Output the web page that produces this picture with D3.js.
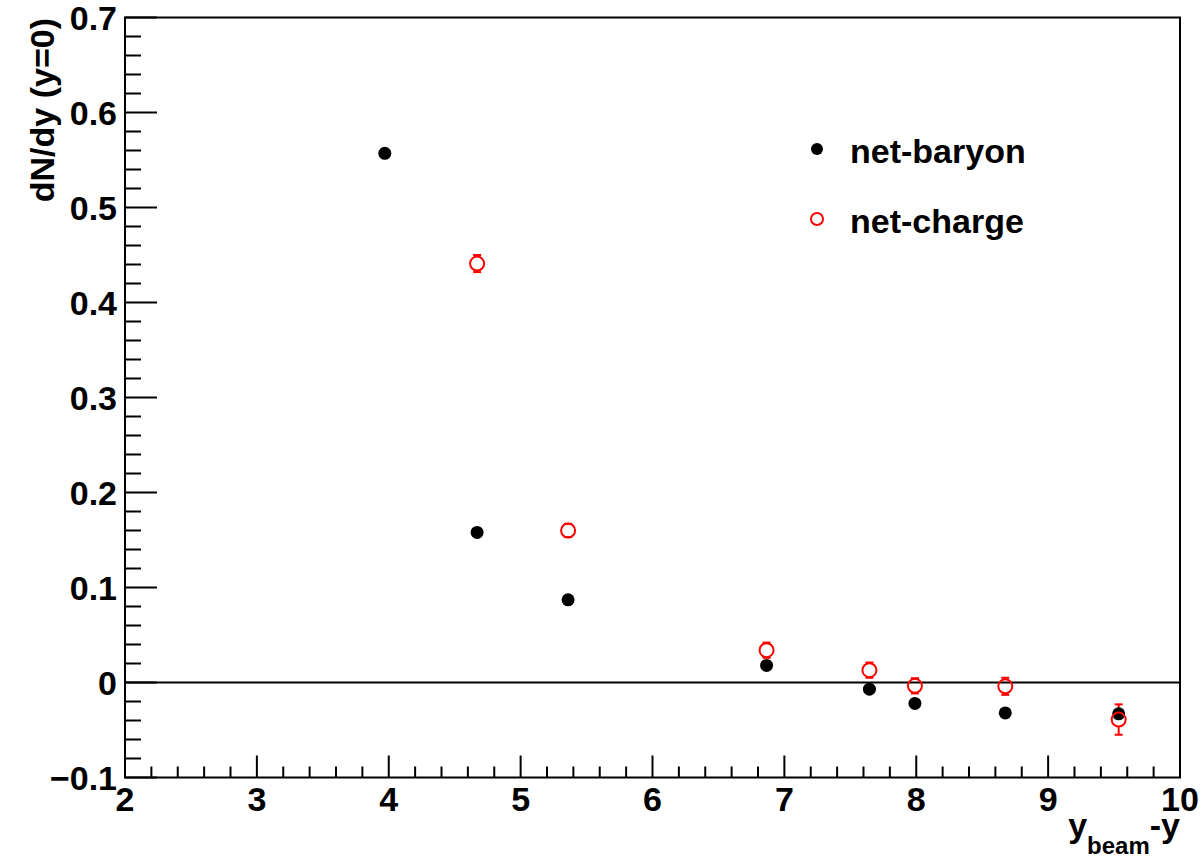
<!DOCTYPE html>
<html>
<head>
<meta charset="utf-8">
<script src="https://cdn.jsdelivr.net/npm/d3@7"></script>
<style>
  body { margin: 0; background: #fff; }
  text { font-family: "Liberation Sans", Arial, sans-serif; font-weight: bold; }
</style>
</head>
<body>
<script>
const w = 1204;
const h = 861;

// Data

const baryonX = [3.97, 4.67, 5.36, 6.865, 7.645, 7.99, 8.675, 9.535];
const baryonY = [0.557, 0.158, 0.087, 0.018, -0.007, -0.022, -0.032, -0.033];

const chargeX = [4.67, 5.36, 6.865, 7.645, 7.99, 8.675, 9.535];
const chargeY = [0.441, 0.160, 0.034, 0.013, -0.0035, -0.004, -0.039];
const chargeErr = [0.009, 0.007, 0.008, 0.008, 0.008, 0.009, 0.016];

const xTicks = [2, 3, 4, 5, 6, 7, 8, 9, 10];
const yTicks = [-0.1, 0, 0.1, 0.2, 0.3, 0.4, 0.5, 0.6, 0.7];
const yTickLabels = ["\u22120.1", "0", "0.1", "0.2", "0.3", "0.4", "0.5", "0.6", "0.7"];

const legendLabels = ["net-baryon", "net-charge"];

// Scales

const x = d3.scaleLinear().domain([2, 10]).range([125, 1180]);
const y = d3.scaleLinear().domain([-0.1, 0.7]).range([777.5, 17.5]);

// SVG

const svg = d3.select("body").append("svg").attr("width", w).attr("height", h);

// Frame

svg
  .append("rect")
  .attr("x", x(2))
  .attr("y", y(0.7))
  .attr("width", x(10) - x(2))
  .attr("height", y(-0.1) - y(0.7))
  .attr("fill", "none")
  .attr("stroke", "black")
  .attr("stroke-width", 2);

// Zero line

svg
  .append("line")
  .attr("x1", x(2))
  .attr("x2", x(10))
  .attr("y1", y(0))
  .attr("y2", y(0))
  .attr("stroke", "black")
  .attr("stroke-width", 2);

// Y ticks

svg
  .append("g")
  .selectAll("line")
  .data(y.ticks(40))
  .join("line")
  .attr("x1", x(2))
  .attr("x2", (d) => x(2) + (Math.abs(Math.round(d * 50)) % 5 === 0 ? 32 : 16))
  .attr("y1", (d) => y(d))
  .attr("y2", (d) => y(d))
  .attr("stroke", "black")
  .attr("stroke-width", 2);

svg
  .append("g")
  .selectAll("text")
  .data(yTicks)
  .join("text")
  .attr("x", 117)
  .attr("y", (d) => y(d))
  .attr("dy", "0.36em")
  .attr("text-anchor", "end")
  .attr("font-size", 34)
  .text((d, i) => yTickLabels[i]);

// X ticks

svg
  .append("g")
  .selectAll("line")
  .data(x.ticks(40))
  .join("line")
  .attr("x1", (d) => x(d))
  .attr("x2", (d) => x(d))
  .attr("y1", y(-0.1))
  .attr("y2", (d) => y(-0.1) - (Math.abs(Math.round(d * 5)) % 5 === 0 ? 22 : 11))
  .attr("stroke", "black")
  .attr("stroke-width", 2);

svg
  .append("g")
  .selectAll("text")
  .data(xTicks)
  .join("text")
  .attr("x", (d) => x(d))
  .attr("y", 811)
  .attr("text-anchor", "middle")
  .attr("font-size", 34)
  .text((d) => d);

// Axis titles

svg
  .append("text")
  .attr("transform", "translate(54,18) rotate(-90)")
  .attr("text-anchor", "end")
  .attr("font-size", 34)
  .text("dN/dy (y=0)");

const xTitle = svg
  .append("text")
  .attr("x", 1180)
  .attr("y", 837)
  .attr("text-anchor", "end")
  .attr("font-size", 34);
xTitle.append("tspan").text("y");
xTitle.append("tspan").attr("font-size", 24).attr("dy", 17).text("beam");
xTitle.append("tspan").attr("dy", -17).text("-y");

// Net-charge error bars

const r = 7;

const errG = svg.append("g").attr("stroke", "red").attr("stroke-width", 2);

chargeX.forEach((cx, i) => {
  const px = x(cx);
  const top = y(chargeY[i] + chargeErr[i]);
  const bot = y(chargeY[i] - chargeErr[i]);
  const py = y(chargeY[i]);
  if (py - top > r) {
    errG.append("line").attr("x1", px).attr("x2", px).attr("y1", top).attr("y2", py - r);
    errG.append("line").attr("x1", px).attr("x2", px).attr("y1", py + r).attr("y2", bot);
  }
  errG.append("line").attr("x1", px - 4).attr("x2", px + 4).attr("y1", top).attr("y2", top);
  errG.append("line").attr("x1", px - 4).attr("x2", px + 4).attr("y1", bot).attr("y2", bot);
});

// Net-baryon points

svg
  .append("g")
  .selectAll("circle")
  .data(baryonX)
  .join("circle")
  .attr("cx", (d) => x(d))
  .attr("cy", (d, i) => y(baryonY[i]))
  .attr("r", 6.5)
  .attr("fill", "black");

// Net-charge points

svg
  .append("g")
  .selectAll("circle")
  .data(chargeX)
  .join("circle")
  .attr("cx", (d) => x(d))
  .attr("cy", (d, i) => y(chargeY[i]))
  .attr("r", r)
  .attr("fill", "none")
  .attr("stroke", "red")
  .attr("stroke-width", 2);

// Legend

const legend = svg.append("g");

legend
  .append("circle")
  .attr("cx", 817)
  .attr("cy", 149)
  .attr("r", 6)
  .attr("fill", "black");

legend
  .append("circle")
  .attr("cx", 817)
  .attr("cy", 219)
  .attr("r", 6)
  .attr("fill", "none")
  .attr("stroke", "red")
  .attr("stroke-width", 2);

legend
  .selectAll("text")
  .data(legendLabels)
  .join("text")
  .attr("x", 850)
  .attr("y", (d, i) => 163 + i * 70)
  .attr("font-size", 34)
  .text((d) => d);
</script>
</body>
</html>
